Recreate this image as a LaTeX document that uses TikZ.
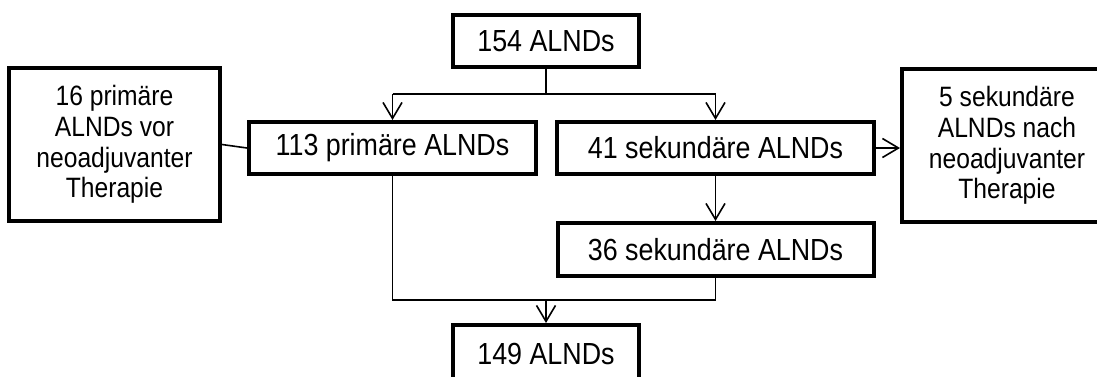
\documentclass[tikz,border=0pt]{standalone}
\usepackage{fontspec}
\setmainfont{Liberation Sans}[FakeStretch=0.88]
\usetikzlibrary{arrows.meta}
\begin{document}
\begin{tikzpicture}[x=1pt,y=-1pt,
  box/.style={draw=black,line width=4pt,inner sep=0pt,align=center,
    font=\fontsize{30.5}{31}\selectfont,text=black},
  tallbox/.style={box,font=\fontsize{28}{30.7}\selectfont},
  conn/.style={draw=black,line width=1.6pt},
  arr/.style={conn,-{Straight Barb[length=16pt,width=19pt,line width=1.6pt]}}]
\useasboundingbox (0,0) rectangle (1097,376);
\clip (0,0) rectangle (1097,376);
\fill[white] (0,0) rectangle (1097,376);
\node[box,minimum width=186pt,minimum height=52pt] (b154) at (546,41) {154 ALNDs};
\node[box,minimum width=287pt,minimum height=52pt] (b113) at (392.5,148) {113 primäre ALNDs};
\node[box,minimum width=317pt,minimum height=52pt] (b41) at (715.5,148) {41 sekundäre ALNDs};
\node[box,minimum width=316pt,minimum height=53pt] (b36) at (715.5,249.5) {36 sekundäre ALNDs};
\node[box,minimum width=186pt,minimum height=58pt] (b149) at (546,354) {149 ALNDs};
\node[tallbox,minimum width=211pt,minimum height=153pt] (lft) at (114.5,144.5) {16 primäre\\ALNDs vor\\neoadjuvanter\\Therapie};
\node[tallbox,minimum width=210pt,minimum height=153pt] (rgt) at (1007,145.5) {5 sekundäre\\ALNDs nach\\neoadjuvanter\\Therapie};
% split from 154
\coordinate (s1) at (546,94);
\coordinate (sl) at (392.5,94);
\coordinate (sr) at (715.5,94);
\draw[conn] (b154.south) -- (s1);
\draw[conn] (sl) -- (sr);
\draw[arr] (sl) -- (b113.north);
\draw[arr] (sr) -- (b41.north);
% side boxes
\draw[conn] (lft.east) -- (b113.west);
\draw[arr] (b41.east) -- (rgt.west |- b41.east);
% 41 -> 36
\draw[arr] (b41.south) -- (b36.north);
% merge to 149
\coordinate (ml) at (392.5,300);
\coordinate (mr) at (715.5,300);
\coordinate (mm) at (546,300);
\draw[conn] (b113.south) -- (ml) -- (mr) -- (b36.south);
\draw[arr] (mm) -- (b149.north);
\end{tikzpicture}
\end{document}
